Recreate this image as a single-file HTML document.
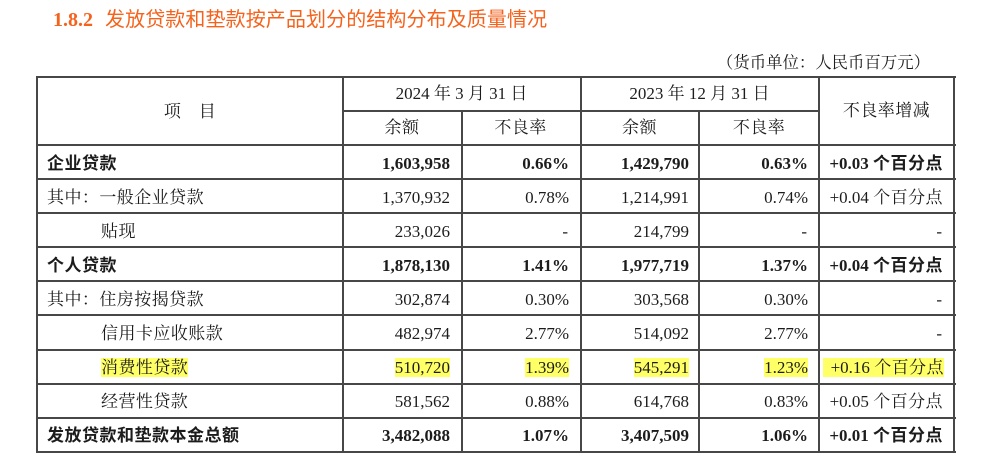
<!DOCTYPE html>
<html><head><meta charset="utf-8">
<style>
*{margin:0;padding:0;box-sizing:border-box}
html,body{width:1000px;height:475px;background:#fff;overflow:hidden}
body{position:relative;font-family:"Liberation Serif","Noto Serif CJK SC",serif;color:#1c1c1c}
.h{position:absolute;height:2px;background:#474747}
.v{position:absolute;width:2px;background:#474747}
.t{position:absolute;white-space:nowrap;font-size:17px;line-height:20px}
.cj{letter-spacing:0.45px}
.r{text-align:right}
.c{text-align:center}
.b{font-weight:bold}
.bc{font-family:"Liberation Serif","Noto Sans CJK SC",sans-serif;font-weight:bold;letter-spacing:0.5px}
.hl{background:#ffff66}
.title{position:absolute;top:8px;font-size:20px;line-height:24px;color:#f5621c}
</style></head><body>

<div class="title b" style="left:53px;font-family:'Liberation Serif',serif">1.8.2</div>
<div class="title" style="left:105px;font-family:'Liberation Serif','Noto Sans CJK SC',sans-serif;letter-spacing:0.1px">发放贷款和垫款按产品划分的结构分布及质量情况</div>

<div class="t" style="left:716px;top:52px;font-size:16.4px;line-height:22px;width:214px;text-align:right">（货币单位：人民币百万元）</div>

<!-- horizontal lines -->
<div class="h" style="left:36px;width:920px;top:75.5px"></div>
<div class="h" style="left:342px;width:478px;top:110px"></div>
<div class="h" style="left:36px;width:920px;top:143.5px"></div>
<div class="h" style="left:36px;width:920px;top:177.7px"></div>
<div class="h" style="left:36px;width:920px;top:211.8px"></div>
<div class="h" style="left:36px;width:920px;top:246px"></div>
<div class="h" style="left:36px;width:920px;top:280.2px"></div>
<div class="h" style="left:36px;width:920px;top:314.3px"></div>
<div class="h" style="left:36px;width:920px;top:348.5px"></div>
<div class="h" style="left:36px;width:920px;top:382.7px"></div>
<div class="h" style="left:36px;width:920px;top:416.8px"></div>
<div class="h" style="left:36px;width:920px;top:451px"></div>

<!-- vertical lines -->
<div class="v" style="left:36px;top:75.5px;height:377.5px"></div>
<div class="v" style="left:342px;top:75.5px;height:377.5px"></div>
<div class="v" style="left:460.5px;top:110px;height:343px"></div>
<div class="v" style="left:579.7px;top:75.5px;height:377.5px"></div>
<div class="v" style="left:698.3px;top:110px;height:343px"></div>
<div class="v" style="left:818px;top:75.5px;height:377.5px"></div>
<div class="v" style="left:953.3px;top:75.5px;height:377.5px"></div>

<!-- header -->
<div class="t c cj" style="left:37px;width:306px;top:102px">项　目</div>
<div class="t c" style="left:343px;width:237px;top:84px">2024 年 3 月 31 日</div>
<div class="t c" style="left:580px;width:239px;top:84px">2023 年 12 月 31 日</div>
<div class="t c cj" style="left:343px;width:118px;top:118px">余额</div>
<div class="t c cj" style="left:461px;width:119px;top:118px">不良率</div>
<div class="t c cj" style="left:580px;width:119px;top:118px">余额</div>
<div class="t c cj" style="left:699px;width:120px;top:118px">不良率</div>
<div class="t c cj" style="left:819px;width:135px;top:101px">不良率增减</div>

<!-- row 0 -->
<div class="t bc" style="left:47px;top:154px">企业贷款</div>
<div class="t r b" style="right:550px;top:154px">1,603,958</div>
<div class="t r b" style="right:431px;top:154px">0.66%</div>
<div class="t r b" style="right:311px;top:154px">1,429,790</div>
<div class="t r b" style="right:192px;top:154px">0.63%</div>
<div class="t r b" style="right:57px;top:154px">+0.03 <span class="bc">个百分点</span></div>

<!-- row 1 -->
<div class="t cj" style="left:47px;top:188px">其中：一般企业贷款</div>
<div class="t r" style="right:550px;top:188px">1,370,932</div>
<div class="t r" style="right:431px;top:188px">0.78%</div>
<div class="t r" style="right:311px;top:188px">1,214,991</div>
<div class="t r" style="right:192px;top:188px">0.74%</div>
<div class="t r" style="right:57px;top:188px">+0.04 <span class="cj">个百分点</span></div>

<!-- row 2 -->
<div class="t cj" style="left:101px;top:222px">贴现</div>
<div class="t r" style="right:550px;top:222px">233,026</div>
<div class="t r" style="right:432px;top:222px">-</div>
<div class="t r" style="right:311px;top:222px">214,799</div>
<div class="t r" style="right:193px;top:222px">-</div>
<div class="t r" style="right:58px;top:222px">-</div>

<!-- row 3 -->
<div class="t bc" style="left:47px;top:256px">个人贷款</div>
<div class="t r b" style="right:550px;top:256px">1,878,130</div>
<div class="t r b" style="right:431px;top:256px">1.41%</div>
<div class="t r b" style="right:311px;top:256px">1,977,719</div>
<div class="t r b" style="right:192px;top:256px">1.37%</div>
<div class="t r b" style="right:57px;top:256px">+0.04 <span class="bc">个百分点</span></div>

<!-- row 4 -->
<div class="t cj" style="left:47px;top:290px">其中：住房按揭贷款</div>
<div class="t r" style="right:550px;top:290px">302,874</div>
<div class="t r" style="right:431px;top:290px">0.30%</div>
<div class="t r" style="right:311px;top:290px">303,568</div>
<div class="t r" style="right:192px;top:290px">0.30%</div>
<div class="t r" style="right:58px;top:290px">-</div>

<!-- row 5 -->
<div class="t cj" style="left:101px;top:324px">信用卡应收账款</div>
<div class="t r" style="right:550px;top:324px">482,974</div>
<div class="t r" style="right:431px;top:324px">2.77%</div>
<div class="t r" style="right:311px;top:324px">514,092</div>
<div class="t r" style="right:192px;top:324px">2.77%</div>
<div class="t r" style="right:58px;top:324px">-</div>

<!-- row 6 highlighted -->
<div class="t cj" style="left:101px;top:358px"><span class="hl">消费性贷款</span></div>
<div class="t r" style="right:550px;top:358px"><span class="hl">510,720</span></div>
<div class="t r" style="right:431px;top:358px"><span class="hl">1.39%</span></div>
<div class="t r" style="right:311px;top:358px"><span class="hl">545,291</span></div>
<div class="t r" style="right:192px;top:358px"><span class="hl">1.23%</span></div>
<div class="t r" style="right:56px;top:358px"><span class="hl" style="padding-left:8px">+0.16 <span class="cj">个百分点</span></span></div>

<!-- row 7 -->
<div class="t cj" style="left:101px;top:392px">经营性贷款</div>
<div class="t r" style="right:550px;top:392px">581,562</div>
<div class="t r" style="right:431px;top:392px">0.88%</div>
<div class="t r" style="right:311px;top:392px">614,768</div>
<div class="t r" style="right:192px;top:392px">0.83%</div>
<div class="t r" style="right:57px;top:392px">+0.05 <span class="cj">个百分点</span></div>

<!-- row 8 -->
<div class="t bc" style="left:47px;top:426px">发放贷款和垫款本金总额</div>
<div class="t r b" style="right:550px;top:426px">3,482,088</div>
<div class="t r b" style="right:431px;top:426px">1.07%</div>
<div class="t r b" style="right:311px;top:426px">3,407,509</div>
<div class="t r b" style="right:192px;top:426px">1.06%</div>
<div class="t r b" style="right:57px;top:426px">+0.01 <span class="bc">个百分点</span></div>

</body></html>
